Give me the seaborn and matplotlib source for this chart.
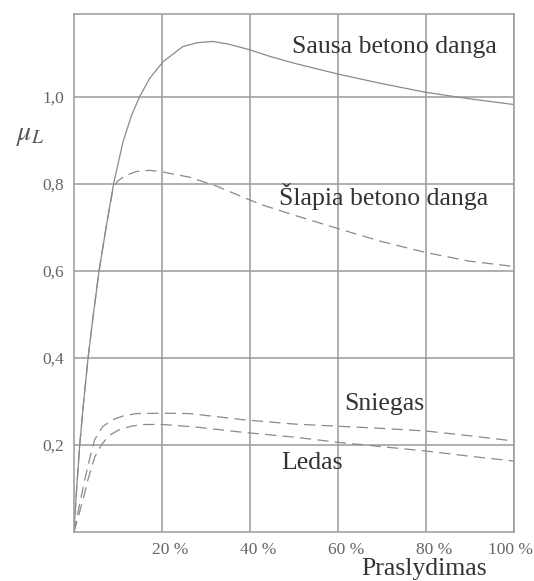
import matplotlib
matplotlib.use("Agg")
import matplotlib.pyplot as plt
import matplotlib.transforms as mtransforms
import seaborn as sns
import pandas as pd

# duomenys nuskaityti nuo paveikslo (praslydimas %, sukibimo koef.)
sausa_x = [0, 0.6, 1.3, 2.2, 3.2, 4.4, 5.7, 7.3, 9.0, 11.1, 13.0, 14.9, 17.2, 20.2,
           24.7, 28, 31.5, 35, 39.9, 44.4, 50, 60, 70, 80, 90, 100]
sausa_y = [0, 0.1, 0.2, 0.3, 0.4, 0.5, 0.6, 0.7, 0.8, 0.895, 0.955, 1.0, 1.042, 1.08,
           1.115, 1.124, 1.127, 1.121, 1.108, 1.093, 1.077, 1.052, 1.03, 1.01, 0.995, 0.982]

slapia_x = [0, 0.6, 1.3, 2.2, 3.2, 4.4, 5.7, 7.3, 8.8, 9.8, 11.5, 14.1, 17.2, 20.2,
            26.3, 32.3, 39.9, 42.9, 50, 60, 70, 80, 90, 100]
slapia_y = [0, 0.1, 0.2, 0.3, 0.4, 0.5, 0.6, 0.7, 0.785, 0.805, 0.818, 0.828, 0.831, 0.827,
            0.815, 0.795, 0.763, 0.751, 0.728, 0.697, 0.667, 0.642, 0.622, 0.61]

sniegas_x = [0, 1.3, 2.4, 3.9, 4.7, 6.5, 8.8, 11, 14.1, 20.2, 26.3, 31.5, 38.4, 50, 60, 70, 80, 90, 100]
sniegas_y = [0, 0.065, 0.118, 0.183, 0.212, 0.242, 0.258, 0.266, 0.272, 0.273, 0.272, 0.266, 0.258,
             0.248, 0.243, 0.238, 0.232, 0.221, 0.209]

ledas_x = [0, 2.0, 3.1, 4.7, 6.2, 8, 10.3, 13, 15.6, 20.2, 27.8, 38.4, 50, 60, 70, 80, 90, 100]
ledas_y = [0, 0.072, 0.118, 0.172, 0.2, 0.222, 0.235, 0.243, 0.247, 0.247, 0.241, 0.229, 0.218,
           0.206, 0.196, 0.186, 0.174, 0.163]

x_ticks = [20, 40, 60, 80, 100]
x_labels = ["20 %", "40 %", "60 %", "80 %", "100 %"]
y_ticks = [0.2, 0.4, 0.6, 0.8, 1.0]
y_labels = ["0,2", "0,4", "0,6", "0,8", "1,0"]

sns.set_style("white")
plt.rcParams["font.family"] = ["Liberation Serif", "DejaVu Serif"]
plt.rcParams["mathtext.fontset"] = "stix"

rows = []
for name, xs, ys in [("Sausa", sausa_x, sausa_y), ("Slapia", slapia_x, slapia_y),
                     ("Sniegas", sniegas_x, sniegas_y), ("Ledas", ledas_x, ledas_y)]:
    for x, y in zip(xs, ys):
        rows.append({"serija": name, "x": x, "y": y})
df = pd.DataFrame(rows)

fig = plt.figure(figsize=(5.34, 5.81), dpi=100)
ax = fig.add_axes([74 / 534, 1 - 532 / 581, 440 / 534, 518 / 581])

line_col = "#8a8a8a"
sns.lineplot(data=df, x="x", y="y", hue="serija", style="serija",
             palette={k: line_col for k in ["Sausa", "Slapia", "Sniegas", "Ledas"]},
             dashes={"Sausa": "", "Slapia": (9, 5), "Sniegas": (9, 5), "Ledas": (9, 5)},
             linewidth=0.9, legend=False, ax=ax, estimator=None, sort=False)

ax.set_xlim(0, 100)
ax.set_ylim(0, 1.19)
ax.set_xticks(x_ticks)
ax.set_xticklabels(x_labels)
ax.set_yticks(y_ticks)
ax.set_yticklabels(y_labels)
ax.grid(True, color="#9a9a9a", linewidth=1.1)
for s in ax.spines.values():
    s.set_color("#9a9a9a")
    s.set_linewidth(1.1)
ax.tick_params(length=0, labelsize=12.5, labelcolor="#666666", pad=7)
ax.set_xlabel("")
ax.set_ylabel("")

# skaiciai per tinklelio linija, paskutinis pritrauktas kad tilptu
for i, lab in enumerate(ax.get_xticklabels()):
    dx = 8 if i < len(x_labels) - 1 else -4
    off = mtransforms.ScaledTranslation(dx / 100, 0, fig.dpi_scale_trans)
    lab.set_transform(lab.get_transform() + off)

txt_col = "#333333"
ax.text(49.5, 1.115, "Sausa betono danga", fontsize=18.5, color=txt_col, va="center")
ax.text(46.5, 0.77, "Šlapia betono danga", fontsize=18.5, color=txt_col, va="center")
ax.text(61.5, 0.295, "Sniegas", fontsize=18.5, color=txt_col, va="center")
ax.text(47, 0.158, "Ledas", fontsize=18.5, color=txt_col, va="center")

fig.text(424 / 534, 1 - 569 / 581, "Praslydimas", fontsize=18.5, color=txt_col,
         ha="center", va="center")
fig.text(30 / 534, 1 - 135 / 581, r"$\mu_L$", fontsize=20, color="#555555",
         ha="center", va="center")

fig.savefig("out.png", dpi=100)
plt.close(fig)
